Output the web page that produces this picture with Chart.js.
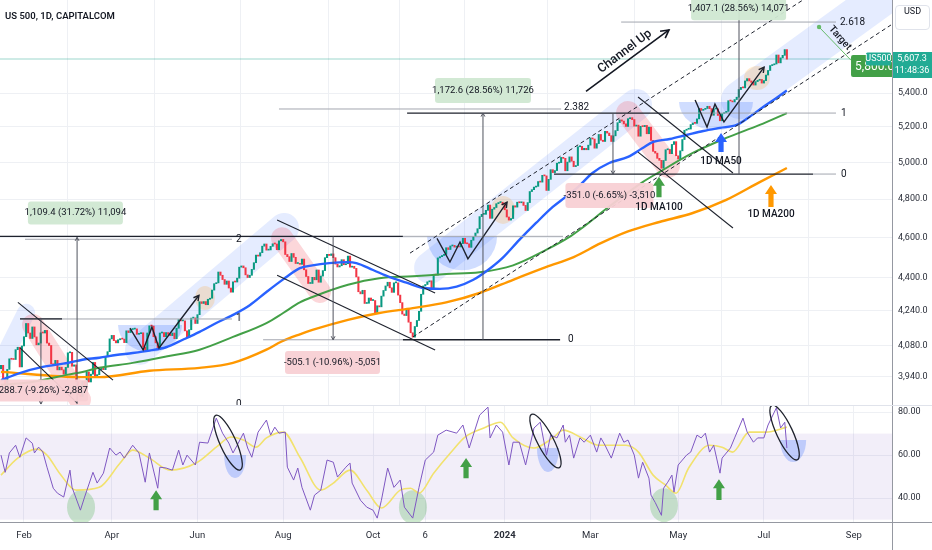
<!DOCTYPE html>
<html>
<head>
<meta charset="utf-8">
<script src="https://cdn.jsdelivr.net/npm/chart.js@4.4.1/dist/chart.umd.min.js"></script>
<style>
  html, body { margin: 0; padding: 0; background: #fff; }
  #wrap { position: relative; width: 932px; height: 550px; overflow: hidden; }
  #main { position: absolute; left: 0; top: 0; }
  #rsi { position: absolute; left: 0; top: 405px; }
  .title { position: absolute; left: 5px; top: 10px; font: 600 9.5px Roboto, sans-serif; color: #131722; }
  .usd { position: absolute; left: 895px; top: 5px; width: 33px; height: 23px; line-height: 23px; text-align: center;
         border: 1px solid #e0e3eb; border-radius: 4px; background: #fff; font: 9px Roboto, sans-serif; color: #131722; }
</style>
</head>
<body>
<div id="wrap">
  <canvas id="main" width="932" height="405"></canvas>
  <canvas id="rsi" width="932" height="145"></canvas>
  <div class="title">US 500, 1D, CAPITALCOM</div>
  <div class="usd">USD</div>
</div>
<script>
// ---- data (bar index 0 = 17 Jan 2023, daily bars) ----
const firstOpen = 3975;
const closes = [
  // Jan 2023
  3990, 3928, 3898, 3972, 4019, 4017, 4016, 4060, 4071, 3983, 4077,
  // Feb
  4119, 4180, 4136, 4111, 4164, 4118, 4082, 4090, 4137, 4136, 4148, 4090, 4079, 3997, 3991, 4012, 3970, 3982, 3970,
  // Mar
  3951, 3981, 4046, 4048, 3986, 3992, 3918, 3862, 3855, 3920, 3892, 3960, 3917, 3951, 4003, 3937, 3949, 3971, 3977, 3971, 4028, 4051, 4109,
  // Apr
  4125, 4101, 4091, 4105, 4110, 4108, 4092, 4146, 4138, 4152, 4154, 4155, 4130, 4133, 4137, 4072, 4056, 4136, 4169,
  // May
  4168, 4119, 4091, 4061, 4136, 4138, 4119, 4138, 4130, 4124, 4136, 4110, 4158, 4198, 4192, 4192, 4146, 4115, 4151, 4205, 4206, 4180,
  // Jun
  4221, 4282, 4274, 4283, 4268, 4294, 4299, 4338, 4369, 4373, 4426, 4410, 4389, 4366, 4382, 4348, 4328, 4378, 4377, 4396, 4450,
  // Jul
  4456, 4447, 4412, 4399, 4410, 4439, 4472, 4510, 4505, 4522, 4555, 4566, 4535, 4536, 4554, 4567, 4566, 4537, 4582, 4589,
  // Aug
  4577, 4513, 4502, 4478, 4518, 4499, 4468, 4469, 4464, 4490, 4437, 4404, 4370, 4370, 4400, 4388, 4436, 4376, 4406, 4433, 4497, 4514, 4508,
  // Sep
  4516, 4497, 4465, 4451, 4457, 4487, 4462, 4467, 4505, 4450, 4454, 4444, 4402, 4330, 4320, 4337, 4274, 4275, 4300, 4288,
  // Oct
  4288, 4229, 4263, 4258, 4309, 4336, 4358, 4376, 4349, 4327, 4373, 4373, 4314, 4278, 4224, 4217, 4248, 4186, 4137, 4117, 4166, 4194,
  // Nov
  4237, 4318, 4358, 4365, 4378, 4383, 4347, 4415, 4411, 4496, 4502, 4508, 4514, 4547, 4538, 4556, 4559, 4550, 4554, 4551, 4568,
  // Dec
  4595, 4569, 4567, 4549, 4585, 4604, 4622, 4644, 4707, 4719, 4719, 4740, 4768, 4698, 4746, 4755, 4775, 4781, 4783, 4770,
  // Jan 2024
  4743, 4705, 4689, 4697, 4764, 4757, 4783, 4780, 4784, 4766, 4739, 4781, 4840, 4850, 4864, 4868, 4894, 4891, 4928, 4925, 4846,
  // Feb
  4906, 4959, 4943, 4954, 4995, 4998, 5027, 5022, 4953, 5001, 5030, 5006, 4976, 4982, 5087, 5089, 5070, 5078, 5070, 5096,
  // Mar
  5137, 5131, 5079, 5105, 5157, 5124, 5117, 5175, 5165, 5150, 5117, 5149, 5179, 5225, 5241, 5234, 5218, 5203, 5248, 5254,
  // Apr
  5243, 5205, 5211, 5147, 5204, 5202, 5209, 5161, 5199, 5123, 5061, 5051, 5022, 5011, 4967, 5010, 5070, 5072, 5048, 5100, 5116, 5036,
  // May
  5018, 5064, 5128, 5181, 5187, 5188, 5214, 5223, 5221, 5247, 5308, 5297, 5303, 5308, 5321, 5307, 5268, 5305, 5306, 5267, 5236, 5278,
  // Jun
  5283, 5291, 5354, 5352, 5347, 5361, 5375, 5421, 5434, 5431, 5473, 5487, 5473, 5464, 5448, 5469, 5477, 5482, 5460,
  // Jul
  5475, 5509, 5537, 5567, 5572, 5577, 5633, 5584, 5615, 5631, 5667, 5607
];

const ma50Idx = [0, 9, 20, 32, 39, 47, 55, 63, 71, 79, 87, 95, 103, 111, 119, 127, 135, 143, 149, 157, 166, 170, 178, 186, 194, 202, 210, 218, 226, 233, 240, 248, 256, 264, 270, 276, 283, 291, 300, 307, 312, 320, 328, 336, 344, 352, 358, 366, 371, 376];
const ma50Val = [3925, 3956, 3983, 4001, 4015, 4024, 4036, 4045, 4056, 4071, 4105, 4141, 4182, 4220, 4266, 4329, 4390, 4445, 4459, 4470, 4475, 4470, 4436, 4401, 4374, 4348, 4344, 4355, 4388, 4436, 4496, 4587, 4674, 4758, 4810, 4864, 4941, 4996, 5030, 5080, 5114, 5131, 5154, 5177, 5195, 5212, 5258, 5329, 5370, 5415];

const ma100Idx = [0, 15, 32, 39, 47, 63, 79, 95, 111, 127, 135, 143, 149, 166, 181, 197, 213, 229, 245, 261, 272, 277, 291, 307, 315, 331, 347, 363, 376];
const ma100Val = [3905, 3917, 3949, 3961, 3979, 4001, 4029, 4060, 4118, 4182, 4229, 4279, 4305, 4364, 4396, 4405, 4416, 4425, 4459, 4537, 4602, 4640, 4760, 4891, 4946, 5052, 5137, 5212, 5281];

const ma200Idx = [0, 39, 47, 71, 95, 111, 127, 134, 143, 149, 166, 181, 197, 213, 229, 245, 261, 274, 287, 300, 315, 331, 347, 363, 376];
const ma200Val = [3961, 3938, 3938, 3966, 3979, 4001, 4060, 4096, 4130, 4150, 4197, 4229, 4252, 4279, 4324, 4388, 4451, 4500, 4570, 4630, 4679, 4726, 4795, 4891, 4968];

const rsiIdx = [0, 2, 4, 7, 9, 12, 15, 16, 18, 20, 22, 25, 27, 30, 33, 34, 38, 40, 44, 46, 49, 52, 55, 57, 59, 63, 66, 69, 71, 75, 76, 79, 82, 85, 87, 89, 93, 95, 99, 103, 106, 109, 111, 113, 116, 118, 120, 123, 127, 129, 131, 133, 136, 137, 140, 142, 144, 148, 150, 153, 156, 159, 161, 165, 167, 168, 172, 175, 178, 180, 182, 185, 188, 191, 193, 197, 200, 203, 207, 209, 213, 218, 221, 224, 229, 233, 234, 237, 240, 243, 245, 248, 251, 255, 258, 261, 263, 266, 269, 270, 272, 274, 277, 279, 282, 285, 287, 289, 292, 296, 298, 300, 303, 305, 307, 310, 311, 313, 316, 317, 319, 321, 322, 324, 328, 330, 333, 335, 337, 339, 341, 344, 345, 349, 351, 353, 355, 357, 360, 362, 365, 367, 370, 371, 373, 375, 376];
const rsiVal = [60, 52, 61, 64.6, 59, 68, 65.5, 61, 63.7, 61.5, 54.4, 44.6, 42.3, 40.5, 53, 45, 34.4, 40.5, 52, 47, 51.6, 63.3, 60, 61.4, 58.6, 64.6, 61, 47.4, 61, 44.6, 54.4, 54, 53, 62.3, 55.4, 60, 55.4, 66, 65.6, 77.2, 70.2, 65.6, 61, 64.6, 70.2, 63.3, 59, 70.7, 76.3, 69.3, 73, 70.2, 70.7, 54.4, 48.4, 54, 45, 34.4, 41.4, 43.7, 57.7, 56.7, 49.8, 54.4, 56.3, 47, 39, 35.8, 34.4, 30.7, 39, 54, 45, 48.4, 35.8, 30.7, 45, 57.7, 61.4, 69.3, 71.6, 70.2, 74, 63.3, 78.6, 82.3, 68, 74, 70.7, 55.4, 66, 66, 55.4, 72.6, 75.3, 60, 69.3, 68, 74, 66, 69.3, 58.6, 68, 66, 69.3, 61.4, 68, 64.6, 58.6, 70.2, 66, 67, 60, 49.3, 56.7, 49.3, 41.4, 38, 32, 44.6, 47.4, 50.7, 42.8, 55.4, 60, 61.4, 69.3, 68, 70.2, 61.4, 64.6, 51.6, 58.6, 63.3, 68, 72.6, 77.2, 70.7, 66, 68, 68, 74, 80, 82, 72.6, 75.3, 63.3];

const rsiMaIdx = [0, 8, 17, 22, 28, 36, 47, 57, 63, 71, 81, 94, 103, 110, 116, 122, 127, 135, 143, 153, 159, 167, 175, 182, 191, 196, 200, 207, 215, 222, 231, 239, 245, 255, 264, 269, 278, 286, 299, 305, 312, 318, 323, 329, 339, 345, 350, 358, 366, 376];
const rsiMaVal = [50.7, 58.6, 62.8, 60, 51.6, 43.7, 45, 56.3, 62.3, 58.6, 53, 56.7, 63.7, 68.4, 67, 63.7, 68, 70.7, 59, 43.7, 47, 53, 43.7, 35.4, 43.7, 44.6, 42.3, 51.6, 61, 68.4, 72.6, 75.3, 68, 63.3, 68, 71.6, 68, 64.6, 64.6, 61.4, 50.7, 46, 42.3, 54, 64.6, 63.7, 61.4, 70.7, 70.7, 73];

const monthIdx = [11, 53, 94, 135, 178, 203, 241, 282, 324, 365, 408];
const monthLbl = ['Feb', 'Apr', 'Jun', 'Aug', 'Oct', '6', '2024', 'Mar', 'May', 'Jul', 'Sep'];
const priceTicks = [3940, 4080, 4240, 4400, 4600, 4800, 5000, 5200, 5400];
const rsiTicks = [40, 60, 80];
const lastPrice = 5607.3;
const countdown = '11:48:36';

// ---- view ranges ----
const X_MIN = -0.48, X_MAX = 426.3;
const P_MIN = 3818, P_MAX = 5988;
const R_MIN = 28.9, R_MAX = 83.3;

const UP = '#089981', DOWN = '#f23645', INK = '#131722', GRID = '#eef0f4', FONT = 'Roboto, sans-serif';

const opens = closes.map((c, i) => i ? closes[i - 1] : firstOpen);
const candles = closes.map((c, i) => ({ x: i, y: [opens[i], c] }));
const candleColors = closes.map((c, i) => c >= opens[i] ? UP : DOWN);
const xy = (idx, val) => idx.map((x, k) => ({ x, y: val[k] }));
const fmtPrice = v => Number(v).toLocaleString('en-US', { minimumFractionDigits: 1, maximumFractionDigits: 1 });

// ---- drawings on the price pane, in (bar index, price) ----
const bands = [
  { a: [-0.5, 3990], b: [12, 4230], w: 18 },
  { a: [66.5, 4059], b: [135.4, 4648], w: 30 },
  { a: [205.3, 4447], b: [303.8, 5329], w: 32 },
  { a: [353.6, 5358], b: [423, 6021], w: 38 }
];
const redZones = [
  { a: [15.3, 4173], b: [37.8, 3841], w: 22 },
  { a: [134.5, 4595], b: [152.6, 4329], w: 22 },
  { a: [300, 5281], b: [319.1, 4980], w: 24 }
];
const orangeSpots = [
  { c: [97.6, 4300], rx: 10, ry: 12 },
  { c: [240.2, 4742], rx: 12, ry: 14 },
  { c: [361.7, 5491], rx: 13, ry: 12 }
];
const wBases = [
  { c: [71.3, 4173], rx: 32, ry: 27 },
  { c: [220.6, 4605], rx: 35, ry: 34 },
  { c: [342.1, 5346], rx: 37, ry: 28 }
];
const wPaths = [
  [[61.7, 4158], [68, 4059], [72.2, 4163], [75.6, 4068], [94.7, 4313]],
  [[208.6, 4595], [214.8, 4475], [219.6, 4576], [223.4, 4491], [242.1, 4783]],
  [[332.1, 5358], [337.8, 5200], [341.6, 5334], [345.9, 5229], [365.1, 5558]]
];
const trendLines = [
  [[8.1, 4279], [53.6, 3925]],
  [[9.1, 4068], [36.4, 3827]],
  [[132.1, 4689], [207.7, 4324]],
  [[132.1, 4410], [207.7, 4059]],
  [[304.8, 5376], [350.2, 4941]],
  [[304.8, 5057], [350.2, 4648]]
];
const dashedLines = [
  [[195.7, 4520], [383.7, 5988]],
  [[197.1, 4118], [425.8, 5824]]
];
const DARK = '#1e222d', GRAY = '#a3a6af';
const hLines = [
  [4605, -0.5, 192.3, DARK], [4590, 11.5, 110.5, GRAY],
  [4201, 9.1, 110.5, GRAY], [4201, 9.1, 29.2, DARK],
  [4605, 192.3, 268.9, GRAY], [5305, 133, 268, GRAY],
  [5281, 194.3, 319.6, DARK], [5281, 319.6, 399.5, GRAY],
  [4105, 125.4, 192.3, GRAY], [4105, 192.3, 267.5, DARK],
  [5843, 296.7, 399.5, GRAY],
  [4935, 264.6, 388.5, DARK], [4935, 388.5, 399.5, GRAY]
];
const fibLabels = [
  ['2', 112.4, 4590], ['1', 112.4, 4201], ['0', 112.4, 3822],
  ['2.382', 269.4, 5311], ['0', 271.3, 4105],
  ['2.618', 401.4, 5843], ['1', 401.9, 5281], ['0', 401.9, 4935]
];
const measures = [
  { x: 36.4, from: 3822, to: 4600, text: '1,109.4 (31.72%) 11,094', box: [35.6, 4726], w: 95, h: 23, pos: true },
  { x: 19.1, from: 4206, to: 3822, text: '-288.7 (-9.26%) -2,887', box: [19.6, 3880], w: 92, h: 22, pos: false },
  { x: 158.9, from: 4605, to: 4105, text: '-505.1 (-10.96%) -5,051', box: [158.6, 4003], w: 95, h: 23, pos: false },
  { x: 230.6, from: 4105, to: 5281, text: '1,172.6 (28.56%) 11,726', box: [230.6, 5415], w: 96, h: 25, pos: true },
  { x: 292.8, from: 5281, to: 4935, text: '-351.0 (-6.65%) -3,510', box: [291.1, 4819], w: 88, h: 25, pos: false },
  { x: 353.1, from: 4935, to: 5988, text: '1,407.1 (28.56%) 14,071', box: [352.9, 5934], w: 95, h: 24, pos: true }
];
const maArrows = [
  { i: 344.5, from: 5057, to: 5165, color: '#2962ff', text: '1D MA50', ty: 5002 },
  { i: 314.8, from: 4810, to: 4920, color: '#43a047', text: '1D MA100', ty: 4753 },
  { i: 368.4, from: 4757, to: 4875, color: '#ff9800', text: '1D MA200', ty: 4716 }
];

// ---- drawings on the RSI pane, in (bar index, RSI) ----
const greenSpots = [[38.3, 35.8], [197.1, 35.8], [317.2, 36.7]];
const rsiArrows = [[74.2, 34.4, 43.7], [222.5, 49.3, 58.6], [343.5, 39.1, 48.8]];
const rsiRings = [
  [[103.3, 77.2], [113.9, 54.4]],
  [[254.5, 77.7], [266.5, 55.4]],
  [[369.4, 81.9], [380.4, 59.1]]
];
const blueBowls = [[112, 60, 11, 23], [261.7, 63.3, 11, 24], [379, 67, 13, 22]];

// ---- small canvas helpers ----
function pt(ch, d) { return [ch.scales.x.getPixelForValue(d[0]), ch.scales.y.getPixelForValue(d[1])]; }
function capsule(ctx, p, q, w, color) {
  ctx.save(); ctx.strokeStyle = color; ctx.lineWidth = w; ctx.lineCap = 'round';
  ctx.beginPath(); ctx.moveTo(p[0], p[1]); ctx.lineTo(q[0], q[1]); ctx.stroke(); ctx.restore();
}
function poly(ctx, pts, color, w, dash) {
  ctx.save(); ctx.strokeStyle = color; ctx.lineWidth = w; ctx.setLineDash(dash || []);
  ctx.beginPath(); pts.forEach((p, k) => k ? ctx.lineTo(p[0], p[1]) : ctx.moveTo(p[0], p[1])); ctx.stroke(); ctx.restore();
}
function head(ctx, p, q, size, color, w) {
  const a = Math.atan2(q[1] - p[1], q[0] - p[0]);
  ctx.save(); ctx.strokeStyle = color; ctx.lineWidth = w; ctx.setLineDash([]);
  ctx.beginPath();
  ctx.moveTo(q[0] - size * Math.cos(a - 0.5), q[1] - size * Math.sin(a - 0.5));
  ctx.lineTo(q[0], q[1]);
  ctx.lineTo(q[0] - size * Math.cos(a + 0.5), q[1] - size * Math.sin(a + 0.5));
  ctx.stroke(); ctx.restore();
}
function blockArrow(ctx, x, yb, yt, color) {
  const hw = 6, sw = 2.6, hh = Math.min(9, (yb - yt) * 0.5);
  ctx.save(); ctx.fillStyle = color; ctx.beginPath();
  ctx.moveTo(x, yt); ctx.lineTo(x + hw, yt + hh); ctx.lineTo(x + sw, yt + hh); ctx.lineTo(x + sw, yb);
  ctx.lineTo(x - sw, yb); ctx.lineTo(x - sw, yt + hh); ctx.lineTo(x - hw, yt + hh); ctx.closePath(); ctx.fill(); ctx.restore();
}
function label(ctx, s, x, y, opts) {
  const o = Object.assign({ size: 9.5, color: INK, align: 'center', rot: 0, weight: 'normal' }, opts || {});
  ctx.save(); ctx.translate(x, y); ctx.rotate(o.rot);
  ctx.font = o.weight + ' ' + o.size + 'px ' + FONT; ctx.fillStyle = o.color;
  ctx.textAlign = o.align; ctx.textBaseline = 'middle'; ctx.fillText(s, 0, 0); ctx.restore();
}
function roundBox(ctx, x, y, w, h, r, fill) {
  ctx.save(); ctx.fillStyle = fill; ctx.beginPath(); ctx.roundRect(x, y, w, h, r); ctx.fill(); ctx.restore();
}
function clipArea(ctx, a) { ctx.beginPath(); ctx.rect(a.left, a.top, a.right - a.left, a.bottom - a.top); ctx.clip(); }

const mainAnno = {
  id: 'mainAnno',
  beforeDatasetsDraw(ch) {
    const ctx = ch.ctx;
    ctx.save(); clipArea(ctx, ch.chartArea);
    const yl = ch.scales.y.getPixelForValue(lastPrice);
    poly(ctx, [[ch.chartArea.left, yl], [ch.chartArea.right, yl]], 'rgba(8,153,129,0.2)', 2);
    bands.forEach(b => capsule(ctx, pt(ch, b.a), pt(ch, b.b), b.w, 'rgba(41,98,255,0.12)'));
    redZones.forEach(b => capsule(ctx, pt(ch, b.a), pt(ch, b.b), b.w, 'rgba(242,54,69,0.2)'));
    orangeSpots.forEach(o => {
      const c = pt(ch, o.c);
      ctx.fillStyle = 'rgba(255,152,0,0.18)'; ctx.beginPath(); ctx.ellipse(c[0], c[1], o.rx, o.ry, 0, 0, Math.PI * 2); ctx.fill();
    });
    wBases.forEach(o => {
      const c = pt(ch, o.c);
      ctx.fillStyle = 'rgba(41,98,255,0.22)'; ctx.beginPath(); ctx.ellipse(c[0], c[1], o.rx, o.ry, 0, 0, Math.PI); ctx.closePath(); ctx.fill();
    });
    ctx.restore();
  },
  afterDatasetsDraw(ch) {
    const ctx = ch.ctx;
    ctx.save(); clipArea(ctx, ch.chartArea);
    hLines.forEach(h => poly(ctx, [pt(ch, [h[1], h[0]]), pt(ch, [h[2], h[0]])], h[3], h[3] === DARK ? 1.3 : 1));
    fibLabels.forEach(f => { const p = pt(ch, [f[1], f[2]]); label(ctx, f[0], p[0], p[1], { align: 'left', size: 10 }); });
    trendLines.forEach(l => poly(ctx, l.map(d => pt(ch, d)), DARK, 1.1));
    dashedLines.forEach(l => poly(ctx, l.map(d => pt(ch, d)), DARK, 1, [4, 3]));
    wPaths.forEach(w => {
      const ps = w.map(d => pt(ch, d));
      poly(ctx, ps, DARK, 1.4);
      head(ctx, ps[ps.length - 2], ps[ps.length - 1], 6, DARK, 1.4);
    });
    measures.forEach(m => {
      const p = pt(ch, [m.x, m.from]), q = pt(ch, [m.x, m.to]);
      poly(ctx, [p, q], '#50535e', 1);
      head(ctx, p, q, 4, '#50535e', 1);
      const c = pt(ch, m.box);
      roundBox(ctx, c[0] - m.w / 2, c[1] - m.h / 2, m.w, m.h, 3, m.pos ? 'rgba(208,232,210,0.95)' : 'rgba(248,208,212,0.95)');
      label(ctx, m.text, c[0], c[1], { size: 9.5 });
    });
    maArrows.forEach(a => {
      const b = pt(ch, [a.i, a.from]), t = pt(ch, [a.i, a.to]);
      blockArrow(ctx, b[0], b[1], t[1], a.color);
      const tp = pt(ch, [a.i, a.ty]);
      label(ctx, a.text, tp[0], tp[1], { size: 10, weight: '500' });
    });
    // Channel Up
    const cu = pt(ch, [298.5, 5655]);
    label(ctx, 'Channel Up', cu[0], cu[1], { size: 12.5, rot: -0.65, weight: '500' });
    const ca = pt(ch, [279.9, 5410]), cb = pt(ch, [319.6, 5792]);
    poly(ctx, [ca, cb], INK, 1.6);
    head(ctx, ca, cb, 9, INK, 1.6);
    // Target
    const t1 = pt(ch, [391.4, 5811]), t2 = pt(ch, [406.7, 5600]);
    poly(ctx, [t1, t2], '#66bb6a', 1);
    ctx.fillStyle = '#66bb6a'; ctx.beginPath(); ctx.arc(t1[0], t1[1], 2.2, 0, Math.PI * 2); ctx.fill();
    const tt = pt(ch, [401.4, 5740]);
    label(ctx, 'Target', tt[0], tt[1], { size: 10, rot: 0.84, weight: '500' });
    ctx.restore();
  },
  afterDraw(ch) {
    const ctx = ch.ctx, A = ch.chartArea;
    const y = ch.scales.y.getPixelForValue(lastPrice);
    const tg = pt(ch, [406.7, 5564]);
    ctx.save();
    ctx.beginPath(); ctx.rect(0, 0, A.right, ch.height); ctx.clip();
    roundBox(ctx, tg[0], tg[1] - 11, 42, 22, 2, '#43a047');
    label(ctx, '5,800.0', tg[0] + 4, tg[1] + 1, { size: 12, color: '#fff', align: 'left' });
    ctx.restore();
    roundBox(ctx, A.right - 26, y - 6.5, 25, 13, 1.5, '#22ab94');
    label(ctx, 'US500', A.right - 13.5, y, { size: 9, color: '#fff' });
    roundBox(ctx, A.right + 1, y - 7, ch.width - A.right - 1, 26, 0, '#22ab94');
    label(ctx, fmtPrice(lastPrice), A.right + 20, y, { size: 9, color: '#fff' });
    label(ctx, countdown, A.right + 20, y + 12, { size: 9, color: '#fff' });
  }
};

const rsiAnno = {
  id: 'rsiAnno',
  beforeDatasetsDraw(ch) {
    const ctx = ch.ctx, A = ch.chartArea, Y = ch.scales.y;
    ctx.save(); clipArea(ctx, A);
    const y70 = Y.getPixelForValue(70), y30 = Y.getPixelForValue(30);
    ctx.fillStyle = 'rgba(126,87,194,0.1)'; ctx.fillRect(A.left, y70, A.right - A.left, y30 - y70);
    greenSpots.forEach(g => {
      const c = pt(ch, g);
      ctx.fillStyle = 'rgba(76,175,80,0.28)'; ctx.beginPath(); ctx.ellipse(c[0], c[1], 14, 17, 0, 0, Math.PI * 2); ctx.fill();
    });
    blueBowls.forEach(b => {
      const c = pt(ch, [b[0], b[1]]);
      ctx.fillStyle = 'rgba(41,98,255,0.25)'; ctx.beginPath(); ctx.ellipse(c[0], c[1], b[2], b[3], 0, 0, Math.PI); ctx.closePath(); ctx.fill();
    });
    ctx.restore();
  },
  afterDatasetsDraw(ch) {
    const ctx = ch.ctx;
    ctx.save(); clipArea(ctx, ch.chartArea);
    rsiArrows.forEach(a => {
      const b = pt(ch, [a[0], a[1]]), t = pt(ch, [a[0], a[2]]);
      blockArrow(ctx, b[0], b[1], t[1], '#43a047');
    });
    rsiRings.forEach(r => {
      const p = pt(ch, r[0]), q = pt(ch, r[1]);
      const cx = (p[0] + q[0]) / 2, cy = (p[1] + q[1]) / 2;
      const a = Math.hypot(q[0] - p[0], q[1] - p[1]) / 2 + 3, ang = Math.atan2(q[1] - p[1], q[0] - p[0]);
      ctx.strokeStyle = DARK; ctx.lineWidth = 1.3; ctx.beginPath(); ctx.ellipse(cx, cy, a, 8, ang, 0, Math.PI * 2); ctx.stroke();
    });
    ctx.restore();
  },
  afterDraw(ch) {
    const ctx = ch.ctx, A = ch.chartArea;
    ctx.save();
    ctx.strokeStyle = '#e0e3eb'; ctx.lineWidth = 1;
    ctx.beginPath(); ctx.moveTo(0, 0.5); ctx.lineTo(ch.width, 0.5); ctx.stroke();
    ctx.strokeStyle = '#9598a1';
    ctx.beginPath(); ctx.moveTo(0, A.bottom + 0.5); ctx.lineTo(ch.width, A.bottom + 0.5); ctx.stroke();
    ctx.beginPath(); ctx.moveTo(A.right + 0.5, A.bottom); ctx.lineTo(A.right + 0.5, ch.height); ctx.stroke();
    ctx.restore();
  }
};

const xAxisBase = {
  type: 'linear', min: X_MIN, max: X_MAX, offset: false,
  grid: { color: GRID, drawTicks: false },
  border: { display: false },
  afterBuildTicks: s => { s.ticks = monthIdx.map(v => ({ value: v })); }
};
const yFit = s => { s.width = 40; s.paddingTop = 0; s.paddingBottom = 0; };

new Chart(document.getElementById('main'), {
  type: 'bar',
  data: {
    datasets: [
      { type: 'line', data: xy(ma50Idx, ma50Val), borderColor: '#2962ff', borderWidth: 2.4, pointRadius: 0, cubicInterpolationMode: 'monotone', order: 0 },
      { type: 'line', data: xy(ma100Idx, ma100Val), borderColor: '#43a047', borderWidth: 2, pointRadius: 0, cubicInterpolationMode: 'monotone', order: 1 },
      { type: 'line', data: xy(ma200Idx, ma200Val), borderColor: '#ff9800', borderWidth: 2.4, pointRadius: 0, cubicInterpolationMode: 'monotone', order: 2 },
      { type: 'bar', data: candles, backgroundColor: candleColors, barThickness: 1.4, minBarLength: 1, grouped: false, order: 3 }
    ]
  },
  options: {
    responsive: false, animation: false, events: [],
    layout: { padding: 0 },
    plugins: { legend: { display: false }, tooltip: { enabled: false } },
    scales: {
      x: Object.assign({}, xAxisBase, {
        ticks: { display: false },
        afterFit: s => { s.height = 0; s.paddingLeft = 0; s.paddingRight = 0; }
      }),
      y: {
        type: 'logarithmic', position: 'right', min: P_MIN, max: P_MAX,
        grid: { color: GRID, drawTicks: false },
        border: { display: true, color: '#9598a1' },
        afterBuildTicks: s => { s.ticks = priceTicks.map(v => ({ value: v })); },
        afterFit: yFit,
        ticks: { padding: 6, color: '#2a2e39', font: { family: FONT, size: 9 }, callback: v => fmtPrice(v) }
      }
    }
  },
  plugins: [mainAnno]
});

new Chart(document.getElementById('rsi'), {
  type: 'line',
  data: {
    datasets: [
      { data: xy(rsiMaIdx, rsiMaVal), borderColor: '#f2e26e', borderWidth: 1.6, pointRadius: 0, cubicInterpolationMode: 'monotone', order: 1 },
      { data: xy(rsiIdx, rsiVal), borderColor: '#7e57c2', borderWidth: 1, pointRadius: 0, tension: 0, order: 0 }
    ]
  },
  options: {
    responsive: false, animation: false, events: [],
    layout: { padding: 0 },
    plugins: { legend: { display: false }, tooltip: { enabled: false } },
    scales: {
      x: Object.assign({}, xAxisBase, {
        ticks: {
          padding: 8, color: '#2a2e39', maxRotation: 0, autoSkip: false,
          font: c => ({ family: FONT, size: 9.5, weight: monthLbl[c.index] === '2024' ? 'bold' : 'normal' }),
          callback: (v, k) => monthLbl[k]
        },
        afterFit: s => { s.height = 28; s.paddingLeft = 0; s.paddingRight = 0; }
      }),
      y: {
        type: 'linear', position: 'right', min: R_MIN, max: R_MAX,
        grid: { color: GRID, drawTicks: false },
        border: { display: true, color: '#9598a1' },
        afterBuildTicks: s => { s.ticks = rsiTicks.map(v => ({ value: v })); },
        afterFit: yFit,
        ticks: { padding: 6, color: '#2a2e39', font: { family: FONT, size: 9 }, callback: v => v.toFixed(2) }
      }
    }
  },
  plugins: [rsiAnno]
});
</script>
</body>
</html>
